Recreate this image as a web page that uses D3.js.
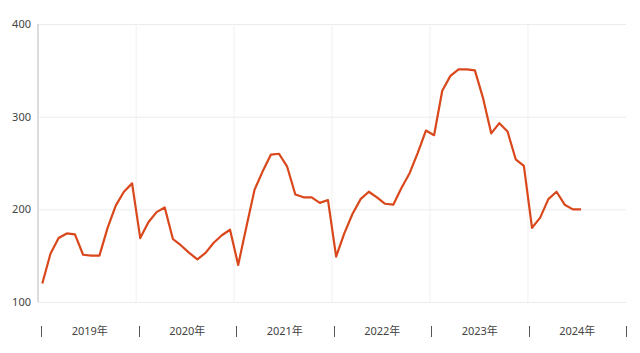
<!DOCTYPE html>
<html>
<head>
<meta charset="utf-8">
<script src="https://cdn.jsdelivr.net/npm/d3@7"></script>
<style>
  body { margin: 0; background: #fff; }
  svg text { font-family: "Noto Sans", "Noto Sans CJK SC", sans-serif; }
</style>
</head>
<body>
<div class="graph-pane"></div>
<script>
// years on the category axis
const years = ["2019", "2020", "2021", "2022", "2023", "2024"];
// monthly values, Jan 2019 .. Jul 2024
const values = [
  120, 152, 169, 174, 173, 151, 150, 150, 180, 204, 219, 228,
  169, 186, 197, 202, 168, 161, 153, 146, 153, 164, 172, 178,
  140, 181, 221, 241, 259, 260, 246, 216, 213, 213, 207, 210,
  149, 174, 195, 211, 219, 213, 206, 205, 223, 239, 261, 285,
  280, 328, 344, 351, 351, 350, 320, 282, 293, 284, 254, 247,
  180, 191, 211, 219, 205, 200, 200
];
const yTicks = [100, 200, 300, 400];

const width = 640, height = 353;
const plot = {left: 38, right: 626, top: 24, bottom: 302};

const svg = d3.select(".graph-pane")
  .append("svg")
  .attr("width", width)
  .attr("height", height);

const x = d3.scaleLinear()
  .domain([0, values.length - 1])
  .range([42.3, 581]);

// separate band scale for the year labels under the chart
const xYear = d3.scaleBand()
  .domain(years)
  .range([41, 626]);

const y = d3.scaleLinear()
  .domain([100, 400])
  .range([plot.bottom, plot.top]);

// horizontal grid + y labels
const yAxis = svg.append("g")
  .attr("transform", "translate(" + plot.left + ",0)")
  .call(d3.axisLeft(y).tickValues(yTicks).tickSize(-(plot.right - plot.left)).tickPadding(7));
yAxis.select(".domain").remove();
yAxis.selectAll(".tick line").attr("stroke", "#ebebeb");
yAxis.selectAll(".tick text").attr("fill", "#444").style("font-size", "11px");

// vertical grid between Decembers and Januaries
const yearBreaks = d3.range(1, years.length).map(k => k * 12 - 0.5);
svg.append("g")
  .selectAll("line")
  .data(yearBreaks)
  .join("line")
  .attr("x1", d => x(d))
  .attr("x2", d => x(d))
  .attr("y1", plot.top)
  .attr("y2", plot.bottom)
  .attr("stroke", "#f0f0f0");

// y axis line
svg.append("line")
  .attr("x1", plot.left).attr("x2", plot.left)
  .attr("y1", plot.top).attr("y2", plot.bottom)
  .attr("stroke", "#dcdcdc")
  .attr("stroke-width", 2);

// year labels
const xAxis = svg.append("g")
  .attr("transform", "translate(0,326)")
  .call(d3.axisBottom(xYear).tickSize(0).tickPadding(1).tickFormat(d => d + "年"));
xAxis.select(".domain").remove();
xAxis.selectAll(".tick text").attr("fill", "#444").style("font-size", "11px");

// separator marks between the year labels
const seps = years.map(d => xYear(d)).concat([xYear.range()[1]]);
svg.append("g")
  .selectAll("line")
  .data(seps)
  .join("line")
  .attr("x1", d => Math.round(d) + 0.5)
  .attr("x2", d => Math.round(d) + 0.5)
  .attr("y1", 326)
  .attr("y2", 337)
  .attr("stroke", "#555");

// the series
const line = d3.line()
  .x((d, i) => x(i))
  .y(d => y(d));

svg.append("path")
  .datum(values)
  .attr("d", line)
  .attr("fill", "none")
  .attr("stroke", "#d9471b")
  .attr("stroke-width", 2.2)
  .attr("stroke-linejoin", "round");
</script>
</body>
</html>
